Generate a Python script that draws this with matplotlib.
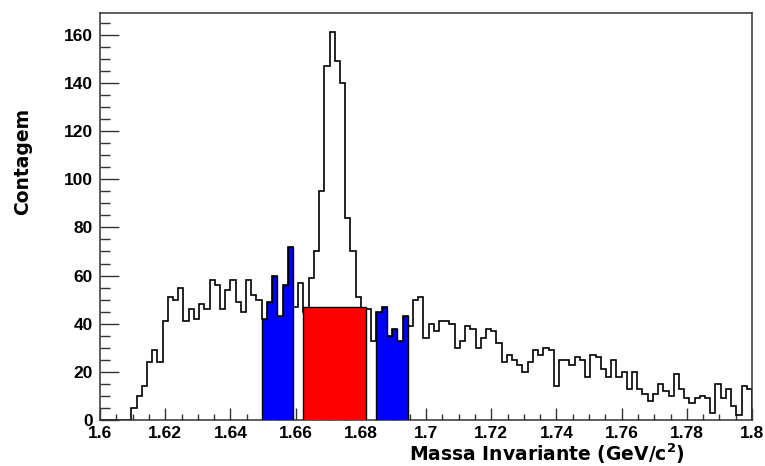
import numpy as np
import matplotlib
matplotlib.use("Agg")
import matplotlib.pyplot as plt
from matplotlib.ticker import MultipleLocator, FuncFormatter

plt.rcParams['font.family'] = ['Liberation Sans', 'DejaVu Sans']
plt.rcParams['font.weight'] = 'bold'
plt.rcParams['mathtext.fontset'] = 'custom'
plt.rcParams['mathtext.rm'] = 'DejaVu Sans:bold'
plt.rcParams['mathtext.default'] = 'rm'

# invariant mass histogram, 125 bins between 1.6 and 1.8 GeV/c^2
m_lo, m_hi, n_bins = 1.6, 1.8, 125
counts = np.array([
    0, 0, 0, 0, 0, 0, 5, 10, 14, 24,
    29, 24, 41, 51, 50, 55, 41, 46, 42, 48,
    46, 58, 56, 46, 54, 58, 49, 45, 58, 52,
    50, 42, 49, 60, 43, 56, 72, 47, 57, 45,
    59, 70, 95, 147, 161, 149, 140, 84, 70, 51,
    45, 46, 33, 45, 47, 35, 38, 33, 43, 39,
    50, 51, 34, 40, 37, 41, 41, 40, 30, 33,
    39, 38, 30, 34, 38, 37, 32, 24, 27, 25,
    23, 20, 24, 29, 27, 30, 29, 14, 25, 25,
    23, 26, 25, 18, 27, 26, 21, 18, 25, 18,
    20, 13, 20, 13, 11, 8, 11, 15, 12, 10,
    19, 13, 9, 7, 9, 10, 9, 3, 15, 9,
    13, 6, 2, 14, 13,
])

# bin index ranges [start, stop) for sidebands and signal window
left_band = (31, 37)
signal_win = (39, 51)
right_band = (53, 59)

edges = np.linspace(m_lo, m_hi, n_bins + 1)

side = np.concatenate([counts[left_band[0]:left_band[1]],
                       counts[right_band[0]:right_band[1]]])
bkg_level = side.mean()

fig = plt.figure(figsize=(7.65, 4.66), dpi=100)
ax = fig.add_axes([100 / 765, 46 / 466, 652 / 765, 407 / 466])

ax.stairs(counts, edges, color='black', lw=1.2, zorder=2)

for lo, hi in (left_band, right_band):
    ax.stairs(counts[lo:hi], edges[lo:hi + 1], fill=True,
              facecolor='#0000ff', edgecolor='black', lw=1.0, zorder=3)

lo, hi = signal_win
ax.stairs(np.full(hi - lo, bkg_level), edges[lo:hi + 1], fill=True,
          facecolor='#ff0000', edgecolor='black', lw=1.0, zorder=3)

ax.set_xlim(m_lo, m_hi)
ax.set_ylim(0, 1.05 * counts.max())

ax.xaxis.set_major_locator(MultipleLocator(0.02))
ax.xaxis.set_minor_locator(MultipleLocator(0.005))
ax.yaxis.set_major_locator(MultipleLocator(20))
ax.yaxis.set_minor_locator(MultipleLocator(5))
ax.xaxis.set_major_formatter(FuncFormatter(lambda v, p: f'{v:g}'))
ax.yaxis.set_major_formatter(FuncFormatter(lambda v, p: f'{v:g}'))

ax.tick_params(axis='both', which='both', direction='in', top=False, right=False,
               labelsize=12.5, width=1.0, color='#333333')
ax.tick_params(axis='x', which='major', length=8.4, pad=4)
ax.tick_params(axis='x', which='minor', length=4.2)
ax.tick_params(axis='y', which='major', length=14, pad=5)
ax.tick_params(axis='y', which='minor', length=7)

for sp in ax.spines.values():
    sp.set_linewidth(1.1)
    sp.set_color('#333333')

fig.text(23 / 765, 1 - 161.5 / 466, 'Contagem', rotation=90,
         ha='center', va='center', fontsize=13.5, fontweight='bold',
         family='DejaVu Sans')
fig.text(685 / 765, 1 - 461 / 466, 'Massa Invariante (GeV/c$^{2}$)',
         ha='right', va='baseline', fontsize=13.5, fontweight='bold',
         family='DejaVu Sans')

fig.savefig('out.png', dpi=100)
